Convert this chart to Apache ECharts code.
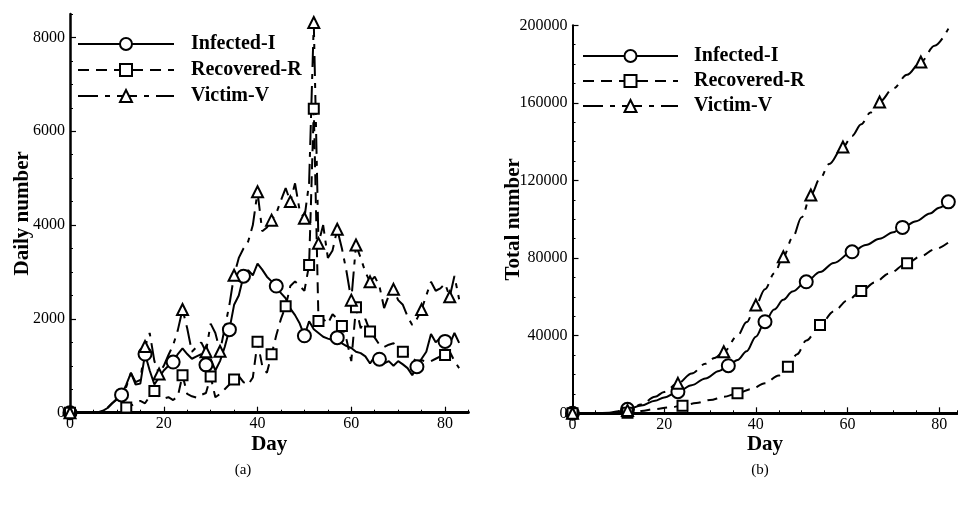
<!DOCTYPE html>
<html>
<head>
<meta charset="utf-8">
<script src="https://cdn.jsdelivr.net/npm/echarts@6/dist/echarts.min.js"></script>
<style>
  html, body { margin: 0; padding: 0; background: #fff; }
  #chart { width: 958px; height: 505px; }
</style>
</head>
<body>
<div id="chart"></div>
<script>
// ---- series names ----
const seriesNames = ['Infected-I', 'Recovered-R', 'Victim-V'];

// ---- panel (a): daily numbers, day 0 .. 83 ----
const dailyDays = [
  0, 1, 2, 3, 4, 5, 6, 7, 8, 9, 10, 11, 12, 13, 14, 15, 16, 17, 18, 19,
  20, 21, 22, 23, 24, 25, 26, 27, 28, 29, 30, 31, 32, 33, 34, 35, 36, 37, 38, 39,
  40, 41, 42, 43, 44, 45, 46, 47, 48, 49, 50, 51, 52, 53, 54, 55, 56, 57, 58, 59,
  60, 61, 62, 63, 64, 65, 66, 67, 68, 69, 70, 71, 72, 73, 74, 75, 76, 77, 78, 79,
  80, 81, 82, 83
];
const dailyInfected = [
  0, 0, 0, 0, 0, 0, 10, 40, 100, 200, 280, 380, 600, 850, 600, 620, 1250, 900, 600, 750,
  900, 1000, 1080, 1250, 1370, 1250, 1150, 1200, 1250, 1020, 1150, 900, 1100, 1400, 1770, 2300, 2500, 2910, 3040, 2930,
  3180, 3050, 2900, 2800, 2700, 2550, 2440, 2220, 2080, 1900, 1640, 1950, 1780, 1700, 1620, 1580, 1550, 1600, 1480, 1420,
  1380, 1300, 1270, 1200, 1050, 1200, 1140, 1050, 1100, 1000, 1100, 1030, 950, 800, 980, 1150, 1300, 1680, 1500, 1600,
  1520, 1460, 1700, 1490
];
const dailyRecovered = [
  0, 0, 0, 0, 0, 0, 0, 0, 0, 0, 0, 60, 110, 150, 200, 250, 200, 350, 460, 350,
  300, 330, 270, 350, 800, 400, 350, 320, 380, 420, 770, 330, 400, 500, 600, 710, 780, 650, 600, 750,
  1510, 1000, 850, 1245, 1650, 2000, 2270, 2700, 2800, 2700, 2600, 3150, 6480, 1955, 2000, 1900, 2100, 2000, 1850, 1550,
  1100, 2250, 1800, 2000, 1730, 1600, 1450, 1400, 1450, 1480, 1400, 1300, 1250, 1150, 1100, 1120, 1090, 1100, 1150, 1200,
  1230, 1300, 1100, 950
];
const dailyVictim = [
  0, 0, 0, 0, 0, 0, 0, 30, 100, 200, 300, 420, 550, 850, 650, 700, 1410, 1700, 1100, 825,
  1000, 1230, 1440, 1760, 2200, 1800, 1300, 1400, 1500, 1300, 1900, 1700, 1310, 1800, 2300, 2930, 3300, 3500, 3650, 4000,
  4710, 3870, 3950, 4105, 4250, 4530, 4790, 4500, 4890, 4300, 4145, 4900, 8320, 3610, 4000, 3300, 3460, 3910, 3500, 3000,
  2400, 3575, 3300, 3000, 2790, 2900, 2700, 2230, 2500, 2630, 2400, 2300, 2050, 1870, 2000, 2200, 2500, 2790, 2600, 2650,
  2750, 2470, 2915, 2420
];
// days carrying a marker symbol
const dailyInfectedMarks = [0, 11, 16, 22, 29, 34, 37, 44, 50, 57, 66, 74, 80];
const dailyRecoveredMarks = [0, 12, 18, 24, 30, 35, 40, 43, 46, 51, 52, 53, 58, 61, 64, 71, 80];
const dailyVictimMarks = [0, 16, 19, 24, 29, 32, 35, 40, 43, 47, 50, 52, 53, 57, 60, 61, 64, 69, 75, 81];

// ---- panel (b): cumulative totals ----
const totalInfectedDays = [0, 5, 8, 10, 12, 15, 18, 20, 23, 26, 29, 32, 34, 36, 38, 40, 42, 44, 46, 48, 51, 54, 57, 61, 64, 67, 70, 72, 75, 78, 80, 82];
const totalInfected = [0, 0, 300, 1000, 2060, 4000, 6500, 8200, 11130, 14500, 18000, 21800, 24530, 27500, 32000, 39500, 47200, 53500, 58500, 62800, 67800, 72800, 77500, 83260, 86800, 90000, 93300, 95830, 99000, 103000, 106000, 109000];
const totalInfectedMarks = [0, 12, 23, 34, 42, 51, 61, 72, 82];

const totalRecoveredDays = [0, 10, 12, 15, 18, 21, 24, 27, 30, 33, 36, 39, 42, 45, 47, 49, 51, 54, 57, 60, 63, 66, 69, 73, 76, 79, 82];
const totalRecovered = [0, 0, 300, 1200, 2200, 3000, 3900, 5300, 6800, 8500, 10300, 12500, 15500, 19500, 24000, 30500, 37500, 45500, 52500, 58200, 63000, 67500, 72000, 77300, 81000, 84500, 88000];
const totalRecoveredMarks = [0, 12, 24, 36, 47, 54, 63, 73];

const totalVictimDays = [0, 8, 10, 12, 15, 18, 20, 23, 26, 29, 31, 33, 36, 38, 40, 42, 44, 46, 48, 50, 52, 54, 56, 59, 61, 63, 65, 67, 70, 73, 76, 79, 82];
const totalVictim = [0, 0, 700, 1500, 4500, 8500, 11000, 15450, 20500, 25500, 28500, 31700, 40000, 47000, 55800, 64000, 72000, 80700, 90500, 101000, 112500, 121000, 128500, 137300, 143000, 149000, 155000, 160500, 167500, 174500, 181100, 189500, 198300];
const totalVictimMarks = [0, 12, 23, 33, 40, 46, 52, 59, 67, 76];

// ---- tick values ----
const dayTicks = [0, 20, 40, 60, 80];
const dailyTicks = [0, 2000, 4000, 6000, 8000];
const totalTicks = [0, 40000, 80000, 120000, 160000, 200000];

const FONT = '"Liberation Serif", "Times New Roman", serif';

function points(days, values, marks) {
  return days.map(function (d, i) {
    return marks.indexOf(d) >= 0 ? [d, values[i]] : { value: [d, values[i]], symbol: 'none' };
  });
}

function lineSeries(name, data, axisIdx, symbol, size, dash, smooth) {
  return {
    type: 'line',
    name: name,
    data: data,
    xAxisIndex: axisIdx,
    yAxisIndex: axisIdx,
    symbol: symbol,
    symbolSize: size,
    showSymbol: true,
    showAllSymbol: true,
    smooth: smooth,
    smoothMonotone: smooth ? 'x' : undefined,
    lineStyle: { color: '#000', width: 2, type: dash, cap: 'butt' },
    itemStyle: { color: '#000', borderColor: '#000' },
    emphasis: { disabled: true },
    animation: false
  };
}

function plainLabel(ticks, margin) {
  return {
    customValues: ticks,
    color: '#000',
    fontFamily: FONT,
    fontSize: 16,
    margin: margin,
    formatter: function (v) { return String(v); }
  };
}

function mainAxis(grid, min, max, interval, ticks, lineWidth, extra) {
  return Object.assign({
    gridIndex: grid,
    type: 'value',
    min: min,
    max: max,
    interval: interval,
    axisLine: { show: true, onZero: false, lineStyle: { color: '#000', width: lineWidth } },
    axisTick: { show: true, inside: true, length: 6, customValues: ticks, lineStyle: { color: '#000', width: 1.2 } },
    splitLine: { show: false },
    nameLocation: 'middle',
    nameMoveOverlap: false,
    nameTextStyle: { color: '#000', fontFamily: FONT, fontWeight: 'bold', fontSize: 21 }
  }, extra);
}

function minorAxis(grid, min, max, interval, extra) {
  return Object.assign({
    gridIndex: grid,
    type: 'value',
    min: min,
    max: max,
    interval: interval,
    axisLine: { show: false },
    axisTick: { show: true, inside: true, length: 3, lineStyle: { color: '#000', width: 1 } },
    axisLabel: { show: false },
    splitLine: { show: false }
  }, extra);
}

const legendText = {
  color: '#000', fontFamily: FONT, fontWeight: 'bold', fontSize: 20, lineHeight: 20
};

const chart = echarts.init(document.getElementById('chart'), null, { renderer: 'canvas' });

chart.setOption({
  backgroundColor: '#fff',
  animation: false,
  grid: [
    { left: 70, top: 14, width: 398.5, height: 398.7 },
    { left: 572.5, top: 25.3, width: 385, height: 388 }
  ],
  xAxis: [
    mainAxis(0, 0, 85, 20, dayTicks, 2.8, { position: 'bottom', name: 'Day', nameGap: 21, axisLabel: plainLabel(dayTicks, 3) }),
    minorAxis(0, 0, 85, 5, { position: 'bottom' }),
    mainAxis(1, 0, 84, 20, dayTicks, 2.8, { position: 'bottom', name: 'Day', nameGap: 21, axisLabel: plainLabel(dayTicks, 3) }),
    minorAxis(1, 0, 84, 5, { position: 'bottom' })
  ],
  yAxis: [
    mainAxis(0, 0, 8500, 2000, dailyTicks, 2.5, { position: 'left', name: 'Daily number', nameGap: 37, axisLabel: plainLabel(dailyTicks, 5) }),
    minorAxis(0, 0, 8500, 500, { position: 'left' }),
    mainAxis(1, 0, 200000, 40000, totalTicks, 2, { position: 'left', name: 'Total number', nameGap: 48, axisLabel: plainLabel(totalTicks, 5) }),
    minorAxis(1, 0, 200000, 10000, { position: 'left' })
  ],
  legend: [
    {
      data: seriesNames, orient: 'vertical', left: 77, top: 34, padding: 0,
      itemWidth: 96, itemHeight: 15, itemGap: 6, selectedMode: false,
      textStyle: Object.assign({ padding: [0, 0, 0, 12] }, legendText)
    },
    {
      data: seriesNames, orient: 'vertical', left: 582, top: 46, padding: 0,
      itemWidth: 95, itemHeight: 15, itemGap: 5, selectedMode: false,
      textStyle: Object.assign({ padding: [0, 0, 0, 11] }, legendText)
    }
  ],
  graphic: [
    { type: 'text', x: 243, y: 470, style: { text: '(a)', font: '15px ' + FONT, fill: '#000', textAlign: 'center', textVerticalAlign: 'middle' } },
    { type: 'text', x: 760, y: 470, style: { text: '(b)', font: '15px ' + FONT, fill: '#000', textAlign: 'center', textVerticalAlign: 'middle' } }
  ],
  series: [
    lineSeries(seriesNames[0], points(dailyDays, dailyInfected, dailyInfectedMarks), 0, 'emptyCircle', 13, 'solid', false),
    lineSeries(seriesNames[1], points(dailyDays, dailyRecovered, dailyRecoveredMarks), 0, 'emptyRect', 10, [11, 7], false),
    lineSeries(seriesNames[2], points(dailyDays, dailyVictim, dailyVictimMarks), 0, 'emptyTriangle', 11, [20, 7, 5, 7], false),
    lineSeries(seriesNames[0], points(totalInfectedDays, totalInfected, totalInfectedMarks), 2, 'emptyCircle', 13, 'solid', 0.35),
    lineSeries(seriesNames[1], points(totalRecoveredDays, totalRecovered, totalRecoveredMarks), 2, 'emptyRect', 10, [10, 7], 0.35),
    lineSeries(seriesNames[2], points(totalVictimDays, totalVictim, totalVictimMarks), 2, 'emptyTriangle', 11, [20, 7, 5, 7], 0.35)
  ]
});
</script>
</body>
</html>
